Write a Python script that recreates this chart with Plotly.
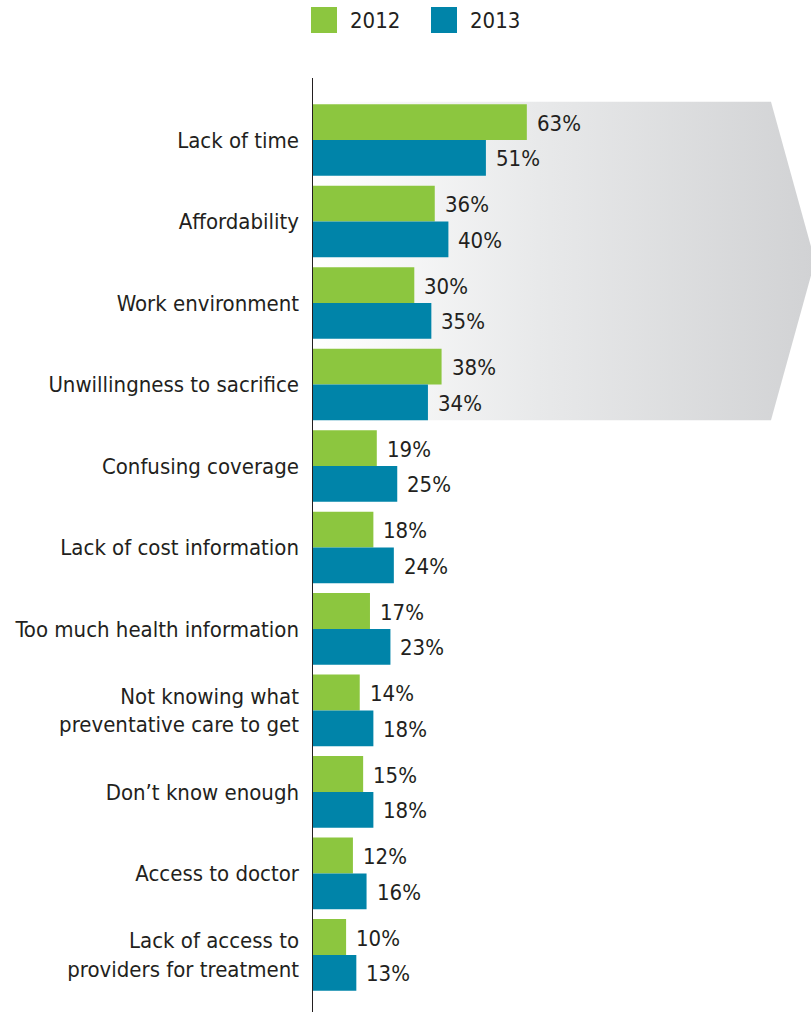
import plotly.graph_objects as go

# Barriers to preventive care, share of respondents (%)
categories = [
    "Lack of time",
    "Affordability",
    "Work environment",
    "Unwillingness to sacrifice",
    "Confusing coverage",
    "Lack of cost information",
    "Too much health information",
    "Not knowing what<br>preventative care to get",
    "Don\u2019t know enough",
    "Access to doctor",
    "Lack of access to<br>providers for treatment",
]
values_2012 = [63, 36, 30, 38, 19, 18, 17, 14, 15, 12, 10]
values_2013 = [51, 40, 35, 34, 25, 24, 23, 18, 18, 16, 13]
series_names = ["2012", "2013"]

GREEN = "#8CC63F"
TEAL = "#0084A9"
TEXT = "#231F20"
FONT = "DejaVu Sans Condensed, DejaVu Sans, sans-serif"

W, H = 811, 1012
M_L, M_T = 312, 78
PX_PER_PCT = 3.41
X_MAX = (W - M_L) / PX_PER_PCT
Y_RANGE = [10.70, -0.761]

BARGAP = 0.12
half = (1 - BARGAP) / 2          # width of one bar in category units
n_top = 4                        # highlighted leading categories

y_pos = list(range(len(categories)))

fig = go.Figure()

# Gray arrow banner behind the leading categories (base subplot, drawn first)
top = -half - 0.03
bottom = (n_top - 1) + half
shoulder = 134.6
tip = 147.5
fig.add_trace(go.Scatter(
    x=[0, shoulder, tip, shoulder, 0, 0],
    y=[top, top, (top + bottom) / 2, bottom, bottom, top],
    xaxis="x", yaxis="y",
    mode="lines",
    line=dict(width=0),
    fill="toself",
    fillgradient=dict(type="horizontal",
                      colorscale=[[0, "#ffffff"], [0.45, "#e8e9ea"], [1, "#d1d2d4"]]),
    hoverinfo="skip",
    showlegend=False,
))

# Bars on the overlaying subplot so they sit above the banner
for name, vals, col in [(series_names[0], values_2012, GREEN),
                        (series_names[1], values_2013, TEAL)]:
    fig.add_trace(go.Bar(
        name=name,
        x=vals,
        y=y_pos,
        xaxis="x2", yaxis="y2",
        orientation="h",
        marker=dict(color=col, line=dict(width=0)),
        hoverinfo="skip",
        showlegend=False,
    ))

# Value labels to the right of each bar
annotations = []
for offset, vals in [(-half / 2, values_2012), (half / 2, values_2013)]:
    for i, v in enumerate(vals):
        annotations.append(dict(
            x=v, y=i + offset, xref="x2", yref="y2",
            text=f"{v}%", showarrow=False,
            xanchor="left", yanchor="middle", xshift=8, yshift=-1,
            font=dict(family=FONT, size=22, color=TEXT),
        ))

# Legend drawn as large swatches with labels
PW, PH = W - M_L, H - M_T


def px_x(px):
    return (px - M_L) / PW


def px_y(py):
    return 1 + (M_T - py) / PH


shapes = []
for (x0, lx), name, col in zip([(311, 350), (431, 470)], series_names, [GREEN, TEAL]):
    shapes.append(dict(type="rect", xref="paper", yref="paper",
                       x0=px_x(x0), x1=px_x(x0 + 26), y0=px_y(33), y1=px_y(7),
                       fillcolor=col, line=dict(width=0), layer="above"))
    annotations.append(dict(x=px_x(lx - 2), y=px_y(21), xref="paper", yref="paper",
                            text=name, showarrow=False, xanchor="left", yanchor="middle",
                            font=dict(family=FONT, size=22, color=TEXT)))

# Vertical baseline at zero
shapes.append(dict(type="line", xref="x2", yref="paper", x0=0, x1=0, y0=0, y1=1,
                   line=dict(color=TEXT, width=2), layer="above"))

fig.update_layout(
    width=W, height=H,
    margin=dict(l=M_L, r=0, t=M_T, b=0, pad=0),
    paper_bgcolor="white",
    plot_bgcolor="rgba(0,0,0,0)",
    barmode="group",
    bargap=BARGAP,
    bargroupgap=0,
    showlegend=False,
    annotations=annotations,
    shapes=shapes,
    xaxis=dict(range=[0, X_MAX], visible=False, fixedrange=True, automargin=False),
    yaxis=dict(range=Y_RANGE, visible=False, fixedrange=True, automargin=False),
    xaxis2=dict(range=[0, X_MAX], overlaying="x", visible=False,
                fixedrange=True, automargin=False),
    yaxis2=dict(
        range=Y_RANGE,
        overlaying="y",
        side="left",
        tickmode="array",
        tickvals=y_pos,
        ticktext=categories,
        ticks="",
        ticklabelstandoff=12,
        tickfont=dict(family=FONT, size=22, color=TEXT),
        showgrid=False,
        zeroline=False,
        showline=False,
        fixedrange=True,
        automargin=False,
    ),
)

fig.write_html("out.html", config={"displayModeBar": False})
